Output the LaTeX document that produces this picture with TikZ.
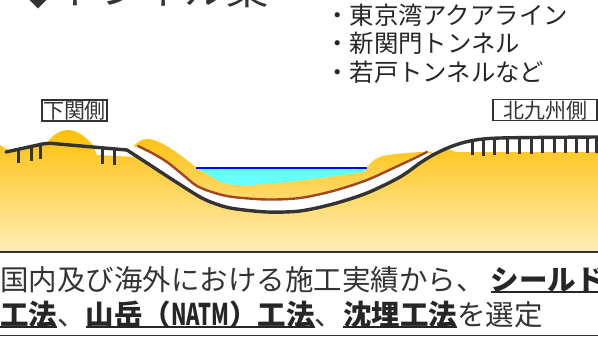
\documentclass[tikz,border=0pt]{standalone}
\usepackage{fontspec}
\setmainfont{Noto Sans CJK JP}
\definecolor{ink}{RGB}{51,51,51}
\definecolor{inkdark}{RGB}{38,38,38}
\definecolor{groundtop}{RGB}{255,192,8}
\definecolor{groundmid}{RGB}{255,214,92}
\definecolor{groundbot}{RGB}{255,238,185}
\definecolor{sea}{RGB}{102,255,255}
\definecolor{sealine}{RGB}{0,0,255}
\definecolor{shieldline}{RGB}{163,70,32}
\newsavebox\ulbox
\newcommand\ulpart[1]{\sbox\ulbox{#1}\rlap{\color{inkdark}\vrule width\wd\ulbox height -0.6pt depth 2.8pt}\usebox\ulbox}
\newcommand\NATMword{\resizebox{58pt}{1.05\height}{NATM}}
\tikzset{
  roadline/.style={draw=ink, line width=3.4pt, line cap=round, line join=round},
  pierline/.style={draw=ink, line width=3pt},
  tunneltop/.style={draw=shieldline, line width=2.4pt, line cap=round},
  sidelabel/.style={draw=ink, line width=1.4pt, fill=white, text=ink,
    font=\fontsize{21pt}{21pt}\selectfont, inner xsep=0.5pt, inner ysep=1pt,
    text height=17.5pt, text depth=1.5pt},
  bullettext/.style={anchor=base west, inner sep=0pt, text=inkdark,
    font=\fontsize{24.4pt}{24.4pt}\selectfont},
  bodytext/.style={anchor=base west, inner sep=0pt, text=ink,
    font=\fontsize{28.5pt}{28.5pt}\selectfont},
}
\begin{document}
\begin{tikzpicture}[x=1pt, y=-1pt]
\clip (0,0) rectangle (598,338);
\fill[white] (0,0) rectangle (598,338);

% ground cross-section
\shade[top color=groundtop, middle color=groundmid, bottom color=groundbot]
  (0,145) -- (8,150) -- (47,142.5)
  .. controls (55,133) and (61,130) .. (68,130)
  .. controls (77,130) and (86,137) .. (93,145)
  -- (97,155) -- (136,157) -- (134,146)
  .. controls (138,141) and (143,139) .. (148,139)
  .. controls (162,140) and (182,156) .. (197,168)
  -- (367,168)
  .. controls (371,161) and (376,157) .. (388,155)
  .. controls (403,153) and (418,152) .. (431,151.5)
  -- (434,155) -- (448,149) -- (456,152) -- (598,152)
  -- (598,252) -- (0,252) -- cycle;

% sea
\fill[sea] (196,168) -- (367,168) -- (364,172)
  .. controls (330,177) and (280,184) .. (245,185)
  .. controls (232,185) and (226,184) .. (221,182) -- cycle;
\draw[sealine, line width=2pt] (196,168) -- (367,168);

% tunnel bore
\fill[white]
  plot[smooth] coordinates {(138,146) (152,153) (167,162) (182,174) (197,186) (215,193) (233,197) (267,199.5) (300,198) (333,191) (367,180) (400,165) (415,158) (427,152)}
  -- plot[smooth] coordinates {(433,155) (420,163) (400,177) (367,193) (333,204) (300,211) (267,212) (233,208.5) (216,204) (200,197) (173,180) (150,165) (127,150)}
  -- cycle;
\draw[tunneltop] plot[smooth] coordinates {(138,146) (152,153) (167,162) (182,174) (197,186) (215,193) (233,197) (267,199.5) (300,198) (333,191) (367,180) (400,165) (415,158) (427,152)};

% bridge piers
\foreach \px/\ptop/\pbot in {18/149/163, 31/146/160.7, 40/144/158.5, 102/147/164, 114/148/165}
  \draw[pierline] (\px,\ptop) -- (\px,\pbot);
\foreach \px/\ptop/\pbot in {472/140/155, 483/139/155.5, 494/138.5/155, 507/138/154, 519/138/153.5, 531/138/153.5, 542/137.8/153, 554/137.6/153, 565/137.5/152.5, 576/137.3/152.5, 587/137.2/152.5, 596/137/152.5}
  \draw[pierline] (\px,\ptop) -- (\px,\pbot);

% road and tunnel invert
\draw[roadline, rounded corners=5pt] (6,152) -- (47,143) -- (127,150);
\draw[roadline] plot[smooth] coordinates {(127,150) (150,165) (173,180) (200,197) (216,204) (233,208.5) (267,212) (300,211) (333,204) (367,193) (400,177) (420,163) (433,155) (450,147) (470,141) (500,138) (598,137)};

% headings
\node[anchor=base west, inner sep=0pt, text=ink, font=\fontsize{42pt}{42pt}\selectfont] (title) at (17,4) {◆トンネル案};
\node[bullettext] (case1) at (325,24) {・東京湾アクアライン};
\node[bullettext] (case2) at (325,52.5) {・新関門トンネル};
\node[bullettext] (case3) at (325,81) {・若戸トンネルなど};

% side labels
\node[sidelabel, minimum width=65pt, minimum height=21pt] (west) at (74.5,110.5) {下関側};
\node[sidelabel, minimum width=104pt, minimum height=20pt] (east) at (545,110) {北九州側};

% conclusion
\draw[ink, line width=1.8pt] (0,252) -- (598,252);
\draw[ink, line width=1.8pt] (0,335.5) -- (598,335.5);
\node[bodytext] (line1) at (0,290.5) {国内及び海外における施工実績から、\hspace{6pt}\ulpart{\bfseries\color{inkdark}シールド}};
\node[bodytext] (line2) at (0,325.5) {\ulpart{\bfseries\color{inkdark}工法}、\ulpart{\bfseries\color{inkdark}山岳（\NATMword）工法}、\ulpart{\bfseries\color{inkdark}沈埋工法}を選定};
\end{tikzpicture}
\end{document}
